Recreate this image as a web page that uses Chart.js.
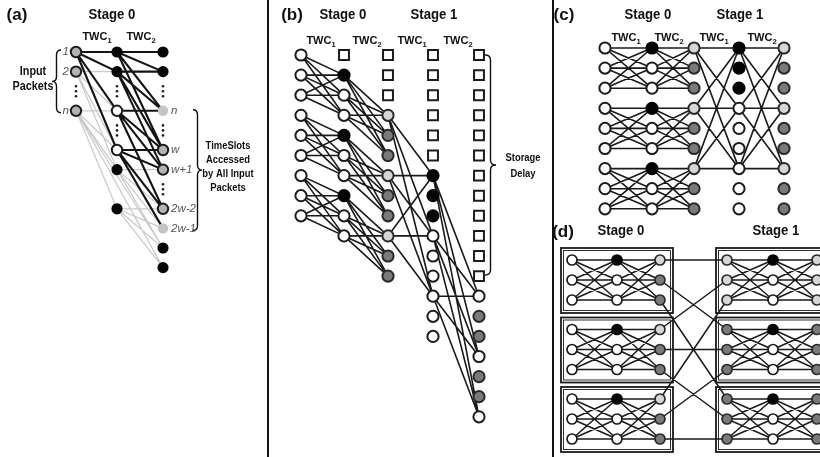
<!DOCTYPE html>
<html>
<head>
<meta charset="utf-8">
<script src="https://cdn.jsdelivr.net/npm/chart.js@4.4.1/dist/chart.umd.min.js"></script>
<style>
  html, body { margin: 0; padding: 0; background: #fff; }
  #wrap { width: 820px; height: 457px; }
</style>
</head>
<body>
<div id="wrap"><canvas id="diagram"></canvas></div>
<script>
// node kinds: w white, b black, l light grey, d dark grey, g grey with heavy rim,
// p pale grey (no rim), s empty slot (square), ":" vertical ellipsis, "" nothing

// ---- (a) one entry per timeslot row
const aInputs = ["g", "g", ":", "g", "", "", "", "", "", "", "", ""]
const aTwc1   = ["b", "b", ":", "w", ":", "w", "b", "", "b", "", "", ""]
const aTwc2   = ["b", "b", ":", "p", ":", "g", "g", ":", "g", "p", "b", "b"]
// [fromCol, fromRow, toCol, toRow]
const aLinksDark = [
  [0, 0, 1, 0], [0, 0, 1, 1], [0, 0, 1, 3], [0, 0, 1, 5],
  [1, 0, 2, 0], [1, 0, 2, 1], [1, 0, 2, 3], [1, 0, 2, 5],
  [1, 1, 2, 1], [1, 1, 2, 3], [1, 1, 2, 5], [1, 1, 2, 6],
  [1, 3, 2, 3], [1, 3, 2, 5], [1, 3, 2, 6], [1, 3, 2, 8],
  [1, 5, 2, 5], [1, 5, 2, 6], [1, 5, 2, 8], [1, 5, 2, 9]
]
const aLinksLight = [
  [0, 1, 1, 1], [0, 1, 1, 3], [0, 1, 1, 5], [0, 1, 1, 6],
  [0, 3, 1, 3], [0, 3, 1, 5], [0, 3, 1, 6], [0, 3, 1, 8],
  [0, 3, 2, 10], [0, 3, 2, 11],
  [1, 6, 2, 6], [1, 6, 2, 8], [1, 6, 2, 9], [1, 6, 2, 10],
  [1, 8, 2, 8], [1, 8, 2, 9], [1, 8, 2, 10], [1, 8, 2, 11]
]
const aInputTags = ["1", "2", "", "n"]
const aSlotTags  = ["", "", "", "n", "", "w", "w+1", "", "2w-2", "2w-1", "", ""]

// ---- (b)
const bCol0 = ["w", "w", "w", "w", "w", "w", "w", "w", "w"]
const bCol1 = ["s", "b", "w", "w", "b", "w", "w", "b", "w", "w"]
const bCol2 = ["s", "s", "s", "l", "d", "d", "l", "d", "d", "l", "d", "d"]
const bCol3 = ["s", "s", "s", "s", "s", "s", "b", "b", "b", "w", "w", "w", "w", "w", "w"]
const bCol4 = ["s", "s", "s", "s", "s", "s", "s", "s", "s", "s", "s", "s", "w", "d", "d", "w", "d", "d", "w"]
// [fromCol, fromRows, toRows] -> every pair joined, toCol = fromCol + 1
const bLinks = [
  [0, [0, 1, 2], [1, 2, 3]], [0, [3, 4, 5], [4, 5, 6]], [0, [6, 7, 8], [7, 8, 9]],
  [1, [1, 2, 3], [3, 4, 5]], [1, [4, 5, 6], [6, 7, 8]], [1, [7, 8, 9], [9, 10, 11]],
  [2, [3, 6, 9], [6, 9, 12]],
  [3, [6, 9, 12], [12, 15, 18]]
]

// ---- (c)
const cCol0 = ["w", "w", "w", "w", "w", "w", "w", "w", "w"]
const cCol1 = ["b", "w", "w", "b", "w", "w", "b", "w", "w"]
const cCol2 = ["l", "d", "d", "l", "d", "d", "l", "d", "d"]
const cCol3 = ["b", "b", "b", "w", "w", "w", "w", "w", "w"]
const cCol4 = ["l", "d", "d", "l", "d", "d", "l", "d", "d"]
const cLinks = [
  [0, [0, 1, 2], [0, 1, 2]], [0, [3, 4, 5], [3, 4, 5]], [0, [6, 7, 8], [6, 7, 8]],
  [1, [0, 1, 2], [0, 1, 2]], [1, [3, 4, 5], [3, 4, 5]], [1, [6, 7, 8], [6, 7, 8]],
  [2, [0, 3, 6], [0, 3, 6]],
  [3, [0, 3, 6], [0, 3, 6]]
]

// ---- (d) three boxes per stage, three rows per box
const dCol0 = ["w", "w", "w", "w", "w", "w", "w", "w", "w"]
const dCol1 = ["b", "w", "w", "b", "w", "w", "b", "w", "w"]
const dCol2 = ["l", "d", "d", "l", "d", "d", "l", "d", "d"]
const dCol3 = ["l", "l", "l", "d", "d", "d", "d", "d", "d"]
const dCol4 = ["b", "w", "w", "b", "w", "w", "b", "w", "w"]
const dCol5 = ["l", "l", "l", "d", "d", "d", "d", "d", "d"]
const dLinks = [
  [0, [0, 1, 2], [0, 1, 2]], [0, [3, 4, 5], [3, 4, 5]], [0, [6, 7, 8], [6, 7, 8]],
  [1, [0, 1, 2], [0, 1, 2]], [1, [3, 4, 5], [3, 4, 5]], [1, [6, 7, 8], [6, 7, 8]],
  [3, [0, 1, 2], [0, 1, 2]], [3, [3, 4, 5], [3, 4, 5]], [3, [6, 7, 8], [6, 7, 8]],
  [4, [0, 1, 2], [0, 1, 2]], [4, [3, 4, 5], [3, 4, 5]], [4, [6, 7, 8], [6, 7, 8]]
]
// stage-0 output row -> stage-1 input row
const dCross = [0, 3, 6, 1, 4, 7, 2, 5, 8]

// ---- text
const panelTags = [["(a)", 17, 15], ["(b)", 292, 15], ["(c)", 564, 15], ["(d)", 563, 232]]
const stageTags = [
  ["Stage 0", 112, 15], ["Stage 0", 343, 15], ["Stage 1", 434, 15],
  ["Stage 0", 648, 15], ["Stage 1", 740, 15], ["Stage 0", 621, 231], ["Stage 1", 776, 231]
]
const twcTags = [
  ["1", 97, 37], ["2", 141, 37], ["1", 321, 41], ["2", 367, 41], ["1", 412, 41], ["2", 458, 41],
  ["1", 626, 38], ["2", 669, 38], ["1", 714, 38], ["2", 762, 38]
]
const leftNote  = [["Input", 33, 72], ["Packets", 33, 87]]
const rightNote = [["TimeSlots", 228, 146], ["Accessed", 228, 160], ["by All Input", 228, 174], ["Packets", 228, 188],
                   ["Storage", 523, 158], ["Delay", 523, 174]]

// ---- layout
const layA = { x: [76, 117, 163], top: 52, step: 19.6, r: 5.2, rim: 2 }
const layB = { x: [301, 344, 388, 433, 479], top: 55, step: 20.1, r: 5.6, rim: 2 }
const layC = { x: [605, 652, 694, 739, 784], top: 48, step: 20.1, r: 5.6, rim: 2 }
const layD = { x: [572, 617, 660, 727, 773, 817], top: 260, step: 20, boxStep: 69.5, r: 5, rim: 1.7 }
const rowA = i => layA.top + layA.step * i
const rowB = i => layB.top + layB.step * i
const rowC = i => layC.top + layC.step * i
const rowD = i => layD.top + layD.boxStep * Math.floor(i / 3) + layD.step * (i % 3)

const kindStyle = {
  w: { fill: "#ffffff", rim: "#1c1c1c" },
  b: { fill: "#050505", rim: "#050505" },
  l: { fill: "#d6d6d6", rim: "#2a2a2a" },
  d: { fill: "#7a7a7a", rim: "#2a2a2a" },
  g: { fill: "#b3b3b3", rim: "#1c1c1c" },
  p: { fill: "#c4c4c4", rim: "#c4c4c4" },
  s: { fill: "#ffffff", rim: "#1c1c1c" }
}

function nodeDataset(cols, lay, rowY) {
  const data = [], fill = [], rim = [], width = [], radius = [], style = []
  cols.forEach((col, ci) => col.forEach((k, ri) => {
    if (!k) return
    if (k === ":") {
      [-5, 0, 5].forEach(dy => {
        data.push({ x: lay.x[ci], y: rowY(ri) + dy })
        fill.push("#222"); rim.push("#222"); width.push(0); radius.push(1.3); style.push("circle")
      })
      return
    }
    data.push({ x: lay.x[ci], y: rowY(ri) })
    fill.push(kindStyle[k].fill)
    rim.push(kindStyle[k].rim)
    width.push(k === "p" ? 0 : lay.rim)
    radius.push(k === "s" ? 7 : (k === "b" && lay === layA ? 4.6 : lay.r))
    style.push(k === "s" ? "rect" : "circle")
  }))
  return {
    data, order: 0, showLine: false,
    pointBackgroundColor: fill, pointBorderColor: rim, pointBorderWidth: width,
    pointRadius: radius, pointStyle: style
  }
}

function edgeDataset(pairs, color, width, order) {
  const data = []
  pairs.forEach(([p, q]) => data.push(p, q, { x: null, y: null }))
  return { data, order, showLine: true, spanGaps: false, borderColor: color, borderWidth: width, pointRadius: 0 }
}

function blockPairs(links, lay, rowY) {
  const out = []
  links.forEach(([c, from, to]) => from.forEach(f => to.forEach(t => {
    out.push([{ x: lay.x[c], y: rowY(f) }, { x: lay.x[c + 1], y: rowY(t) }])
  })))
  return out
}

const aPairs = list => list.map(([c0, r0, c1, r1]) => [{ x: layA.x[c0], y: rowA(r0) }, { x: layA.x[c1], y: rowA(r1) }])
const crossPairs = dCross.map((t, f) => [{ x: layD.x[2], y: rowD(f) }, { x: layD.x[3], y: rowD(t) }])

const datasets = [
  nodeDataset([aInputs, aTwc1, aTwc2], layA, rowA),
  nodeDataset([bCol0, bCol1, bCol2, bCol3, bCol4], layB, rowB),
  nodeDataset([cCol0, cCol1, cCol2, cCol3, cCol4], layC, rowC),
  nodeDataset([dCol0, dCol1, dCol2, dCol3, dCol4, dCol5], layD, rowD),
  edgeDataset(aPairs(aLinksDark), "#141414", 2.1, 2),
  edgeDataset(aPairs(aLinksLight), "#c9c9c9", 1.2, 3),
  edgeDataset(blockPairs(bLinks, layB, rowB), "#1a1a1a", 1.6, 2),
  edgeDataset(blockPairs(cLinks, layC, rowC), "#1a1a1a", 1.6, 2),
  edgeDataset(blockPairs(dLinks, layD, rowD).concat(crossPairs), "#1a1a1a", 1.5, 2)
]

const FONT = '"Liberation Sans", Arial, sans-serif'

function label(ctx, str, px, py, font, opt = {}) {
  ctx.save()
  ctx.font = font
  ctx.fillStyle = opt.color || "#111"
  ctx.textBaseline = "middle"
  ctx.textAlign = opt.align || "center"
  ctx.translate(px, py)
  ctx.scale(opt.sx || 1, 1)
  ctx.fillText(str, 0, 0)
  ctx.restore()
}

function brace(ctx, x, y1, y2, dir, depth) {
  const ym = (y1 + y2) / 2, r = 5, h = depth / 2
  ctx.beginPath()
  ctx.moveTo(x, y1)
  ctx.quadraticCurveTo(x + dir * h, y1, x + dir * h, y1 + r)
  ctx.lineTo(x + dir * h, ym - r)
  ctx.quadraticCurveTo(x + dir * h, ym, x + dir * depth, ym)
  ctx.quadraticCurveTo(x + dir * h, ym, x + dir * h, ym + r)
  ctx.lineTo(x + dir * h, y2 - r)
  ctx.quadraticCurveTo(x + dir * h, y2, x, y2)
  ctx.stroke()
}

const decor = {
  id: "decor",
  beforeDatasetsDraw(chart) {
    const { ctx, scales: { x, y } } = chart
    ctx.save()
    ctx.strokeStyle = "#1a1a1a"
    ;[0, 3].forEach(c0 => [0, 1, 2].forEach(b => {
      const x1 = x.getPixelForValue(layD.x[c0] - 11), x2 = x.getPixelForValue(layD.x[c0 + 2] + 13)
      const y1 = y.getPixelForValue(rowD(b * 3) - 12), y2 = y.getPixelForValue(rowD(b * 3 + 2) + 13)
      ctx.lineWidth = 1.8
      ctx.strokeRect(x1, y1, x2 - x1, y2 - y1)
      ctx.lineWidth = 0.9
      ctx.strokeRect(x1 + 2.5, y1 + 2.5, x2 - x1 - 5, y2 - y1 - 5)
    }))
    ctx.restore()
  },
  afterDatasetsDraw(chart) {
    const { ctx, scales: { x, y } } = chart
    const px = v => x.getPixelForValue(v), py = v => y.getPixelForValue(v)
    ctx.save()
    // panel separators
    ctx.strokeStyle = "#111"
    ctx.lineWidth = 2
    ;[268, 553].forEach(sx => {
      ctx.beginPath(); ctx.moveTo(px(sx), py(0)); ctx.lineTo(px(sx), py(457)); ctx.stroke()
    })
    // braces
    ctx.lineWidth = 1.4
    brace(ctx, px(61), py(rowA(0) - 2), py(rowA(3) + 2), -1, 9)
    brace(ctx, px(193), py(rowA(3) - 1), py(rowA(9) + 2), 1, 9)
    brace(ctx, px(485), py(rowB(0)), py(rowB(11) - 1), 1, 11)
    // titles
    panelTags.forEach(([t, lx, ly]) => label(ctx, t, px(lx), py(ly), `bold 17px ${FONT}`))
    stageTags.forEach(([t, lx, ly]) => label(ctx, t, px(lx), py(ly), `bold 14px ${FONT}`, { sx: 0.94 }))
    twcTags.forEach(([sub, lx, ly]) => {
      ctx.font = `bold 11px ${FONT}`
      const w1 = ctx.measureText("TWC").width
      ctx.font = `bold 7.5px ${FONT}`
      const w2 = ctx.measureText(sub).width
      const start = px(lx) - (w1 + w2) / 2
      label(ctx, "TWC", start, py(ly), `bold 11px ${FONT}`, { align: "left" })
      label(ctx, sub, start + w1, py(ly) + 3.5, `bold 7.5px ${FONT}`, { align: "left" })
    })
    leftNote.forEach(([t, lx, ly]) => label(ctx, t, px(lx), py(ly), `bold 12px ${FONT}`, { sx: 0.9 }))
    rightNote.forEach(([t, lx, ly]) => label(ctx, t, px(lx), py(ly), `bold 11.5px ${FONT}`, { sx: 0.82 }))
    // italic row tags in (a)
    aInputTags.forEach((t, i) => t && label(ctx, t, px(layA.x[0] - 7), py(rowA(i)), `italic 11.5px ${FONT}`, { align: "right", color: "#555" }))
    aSlotTags.forEach((t, i) => t && label(ctx, t, px(layA.x[2] + 8), py(rowA(i)), `italic 11.5px ${FONT}`, { align: "left", color: "#555" }))
    ctx.restore()
  }
}

new Chart(document.getElementById("diagram"), {
  type: "scatter",
  data: { datasets },
  options: {
    responsive: true,
    maintainAspectRatio: false,
    animation: false,
    events: [],
    layout: { autoPadding: false, padding: 0 },
    plugins: { legend: { display: false }, tooltip: { enabled: false } },
    scales: {
      x: { type: "linear", min: 0, max: 820, display: false },
      y: { type: "linear", min: 0, max: 457, reverse: true, display: false }
    }
  },
  plugins: [decor]
})
</script>
</body>
</html>
